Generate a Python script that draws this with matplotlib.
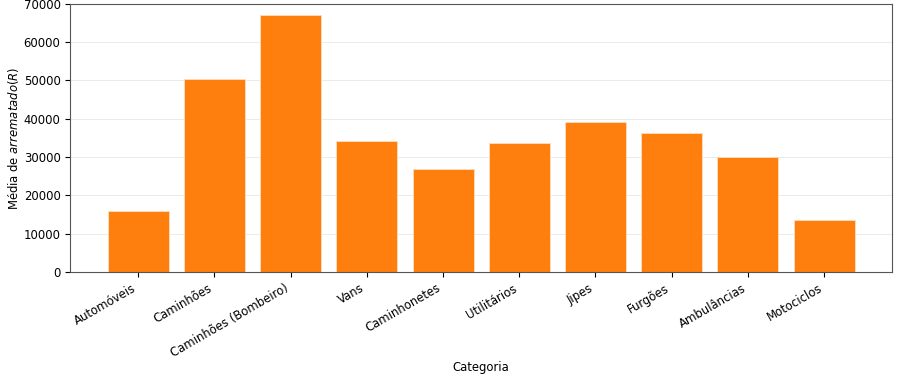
import matplotlib
matplotlib.use("Agg")
import matplotlib.pyplot as plt

categorias = ["Automóveis", "Caminhões", "Caminhões (Bombeiro)", "Vans", "Caminhonetes",
              "Utilitários", "Jipes", "Furgões", "Ambulâncias", "Motociclos"]
medias = [16000, 50400, 67100, 34200, 26900, 33700, 39200, 36300, 30000, 13600]

plt.rcParams["font.size"] = 8.4

fig, ax = plt.subplots(figsize=(9.01, 3.81), dpi=100)
ax.bar(categorias, medias, color="#ff7f0e", edgecolor="#ffd9b8", linewidth=0.7, zorder=2)
ax.set_ylim(0, 70000)
ax.set_xlabel("Categoria", labelpad=0.5)
ax.set_ylabel("Média de $arrematado (R$)", labelpad=2)
ax.grid(axis="y", color="#ebebeb", linewidth=0.7, zorder=0)
plt.setp(ax.get_xticklabels(), rotation=30, ha="right")
for s in ax.spines.values():
    s.set_color("#555555")
fig.subplots_adjust(left=0.078, right=0.99, top=0.99, bottom=0.286)
fig.savefig("out.png", dpi=100)
